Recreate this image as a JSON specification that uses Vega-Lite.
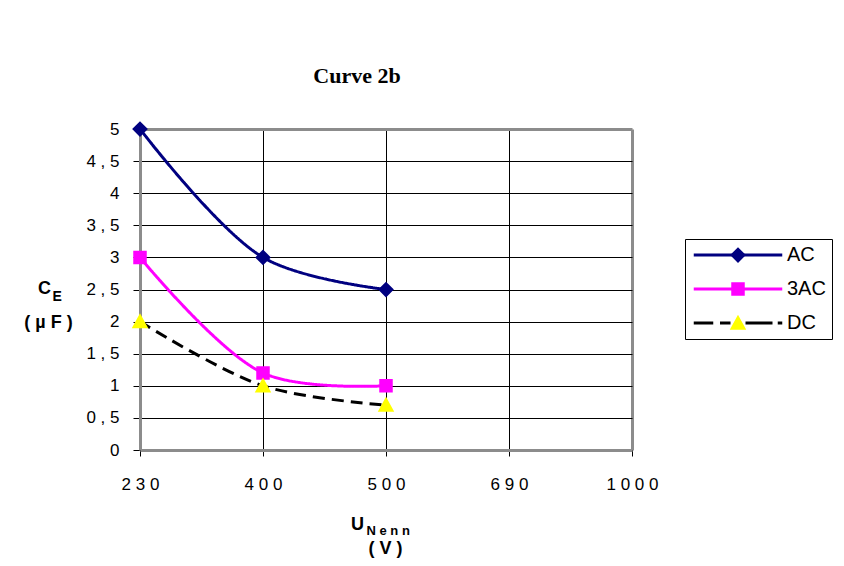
{
  "$schema": "https://vega.github.io/schema/vega-lite/v6.json",
  "width": 492,
  "height": 321,
  "autosize": {"type": "none"},
  "padding": {"left": 140, "top": 129, "right": 212, "bottom": 116},
  "background": "white",
  "title": {
    "text": "Curve 2b",
    "font": "Liberation Serif",
    "fontSize": 22,
    "fontWeight": "bold",
    "color": "black",
    "anchor": "middle",
    "baseline": "alphabetic",
    "dx": -29,
    "offset": 15
  },
  "data": {
    "values": [
      {"series": "AC", "U": "230", "CE": 5},
      {"series": "AC", "U": "400", "CE": 3},
      {"series": "AC", "U": "500", "CE": 2.5},
      {"series": "3AC", "U": "230", "CE": 3},
      {"series": "3AC", "U": "400", "CE": 1.2},
      {"series": "3AC", "U": "500", "CE": 1},
      {"series": "DC", "U": "230", "CE": 2},
      {"series": "DC", "U": "400", "CE": 1},
      {"series": "DC", "U": "500", "CE": 0.7}
    ]
  },
  "config": {
    "view": {"stroke": null},
    "font": "Liberation Sans",
    "axis": {
      "labelFont": "Liberation Sans",
      "titleFont": "Liberation Sans",
      "titleColor": "black",
      "labelColor": "black",
      "titleFontWeight": "bold"
    },
    "legend": {"labelFont": "Liberation Sans"}
  },
  "layer": [
    {
      "transform": [{"filter": "datum.series == 'none'"}],
      "mark": {"type": "point", "filled": false, "strokeWidth": 3, "size": 225, "opacity": 1},
      "encoding": {
        "x": {
          "field": "U", "type": "ordinal",
          "axis": {"orient": "bottom", "title": "N e n n", "labels": false, "ticks": false, "domain": false, "grid": false,
            "titleFontSize": 13, "titleX": 226, "titleY": 80, "titleAlign": "left", "titleBaseline": "middle"}
        },
        "y": {
          "field": "CE", "type": "quantitative",
          "axis": {"orient": "left", "title": "E", "labels": false, "ticks": false, "domain": false, "grid": false,
            "titleFontSize": 14, "titleAngle": 0, "titleX": -88, "titleY": 167, "titleAlign": "left", "titleBaseline": "middle"}
        },
        "shape": {
          "field": "series", "type": "nominal",
          "scale": {"domain": ["AC", "3AC", "DC"], "range": ["M-5.9,0H5.9", "M-5.9,0H5.9", "M-5.9,0H-3.3M-2.4,0H-1M1,0H4.6M5.3,0H5.9"]},
          "legend": {"orient": "none", "legendX": 545, "legendY": 110, "title": null, "padding": 6,
            "strokeColor": "black", "fillColor": "white", "cornerRadius": 0, "symbolSize": 225,
            "symbolStrokeWidth": 3, "symbolOffset": 37, "labelOffset": 39, "labelFontSize": 20,
            "labelColor": "black", "rowPadding": 14, "clipHeight": 20}
        },
        "stroke": {
          "field": "series", "type": "nominal",
          "scale": {"domain": ["AC", "3AC", "DC"], "range": ["#000080", "#FF00FF", "#000000"]},
          "legend": {"orient": "none", "legendX": 545, "legendY": 110, "title": null, "padding": 6,
            "strokeColor": "black", "fillColor": "white", "cornerRadius": 0, "symbolSize": 225,
            "symbolStrokeWidth": 3, "symbolOffset": 37, "labelOffset": 39, "labelFontSize": 20,
            "labelColor": "black", "rowPadding": 14, "clipHeight": 20}
        }
      }
    },
    {
      "mark": {"type": "line", "interpolate": "catmull-rom", "strokeWidth": 3},
      "encoding": {
        "x": {
          "field": "U", "type": "ordinal",
          "scale": {"type": "point", "padding": 0, "domain": ["230", "400", "500", "690", "1000"]},
          "axis": {
            "orient": "bottom",
            "title": "U", "titleFontSize": 18, "titleX": 217, "titleY": 74, "titleAlign": "center", "titleBaseline": "middle",
            "labelExpr": "join(split(datum.label, ''), ' ')",
            "labelFontSize": 17, "labelPadding": 20, "labelAngle": 0,
            "tickColor": "black", "tickSize": 6,
            "domainColor": "#8c8c8c", "domainWidth": 3,
            "grid": true, "gridOpacity": 1,
            "gridColor": {"condition": {"test": "datum.value === '1000'", "value": "#8c8c8c"}, "value": "black"},
            "gridWidth": {"condition": {"test": "datum.value === '1000'", "value": 3}, "value": 1}
          }
        },
        "y": {
          "field": "CE", "type": "quantitative",
          "scale": {"domain": [0, 5], "nice": false},
          "axis": {
            "orient": "left",
            "title": "C", "titleFontSize": 18, "titleAngle": 0, "titleX": -96, "titleY": 159, "titleAlign": "center", "titleBaseline": "middle",
            "values": [0, 0.5, 1, 1.5, 2, 2.5, 3, 3.5, 4, 4.5, 5],
            "format": "~g",
            "labelExpr": "join(split(replace(datum.label, '.', ','), ''), ' ')",
            "labelFontSize": 17, "labelPadding": 14,
            "tickColor": "black", "tickSize": 7,
            "domainColor": "#8c8c8c", "domainWidth": 3,
            "grid": true, "gridOpacity": 1,
            "gridColor": {"condition": {"test": "datum.value === 5", "value": "#8c8c8c"}, "value": "black"},
            "gridWidth": {"condition": {"test": "datum.value === 5", "value": 3}, "value": 1}
          }
        },
        "stroke": {
          "field": "series", "type": "nominal",
          "scale": {"domain": ["AC", "3AC", "DC"], "range": ["#000080", "#FF00FF", "#000000"]},
          "legend": null
        },
        "strokeDash": {
          "field": "series", "type": "nominal",
          "scale": {"domain": ["AC", "3AC", "DC"], "range": [[1, 0], [1, 0], [12, 7]]},
          "legend": null
        }
      }
    },
    {
      "mark": {"type": "point", "filled": true, "size": 225, "opacity": 1, "strokeWidth": 0},
      "encoding": {
        "x": {
          "field": "U", "type": "ordinal",
          "axis": {"orient": "bottom", "title": "( V )", "labels": false, "ticks": false, "domain": false, "grid": false,
            "titleFontSize": 18, "titleX": 245, "titleY": 98, "titleAlign": "center", "titleBaseline": "middle"}
        },
        "y": {
          "field": "CE", "type": "quantitative",
          "axis": {"orient": "left", "title": "( µ F )", "labels": false, "ticks": false, "domain": false, "grid": false,
            "titleFontSize": 18, "titleAngle": 0, "titleX": -92, "titleY": 193, "titleAlign": "center", "titleBaseline": "middle"}
        },
        "shape": {
          "field": "series", "type": "nominal",
          "scale": {"domain": ["AC", "3AC", "DC"], "range": ["M-5.9,0H5.9M-1.05,0L0,-1.05L1.05,0L0,1.05Z", "M-5.9,0H5.9M-0.9,-0.9H0.9V0.9H-0.9Z", "M-5.9,0H5.9M-1.1,0.9L0,-1.1L1.1,0.9Z"]},
          "legend": {"orient": "none", "legendX": 545, "legendY": 110, "title": null, "padding": 6,
            "strokeColor": null, "fillColor": null, "symbolSize": 225,
            "symbolStrokeWidth": 3, "symbolOffset": 37, "labelOffset": 39, "labelFontSize": 20,
            "labelOpacity": 0, "rowPadding": 14, "clipHeight": 20}
        },
        "fill": {
          "field": "series", "type": "nominal",
          "scale": {"domain": ["AC", "3AC", "DC"], "range": ["#000080", "#FF00FF", "#FFFF00"]},
          "legend": {"orient": "none", "legendX": 545, "legendY": 110, "title": null, "padding": 6,
            "strokeColor": null, "fillColor": null, "symbolSize": 225,
            "symbolStrokeWidth": 3, "symbolOffset": 37, "labelOffset": 39, "labelFontSize": 20,
            "labelOpacity": 0, "rowPadding": 14, "clipHeight": 20}
        }
      }
    }
  ],
  "resolve": {
    "scale": {"shape": "independent", "stroke": "independent", "fill": "independent", "strokeDash": "independent", "color": "independent"},
    "axis": {"x": "independent", "y": "independent"}
  }
}
